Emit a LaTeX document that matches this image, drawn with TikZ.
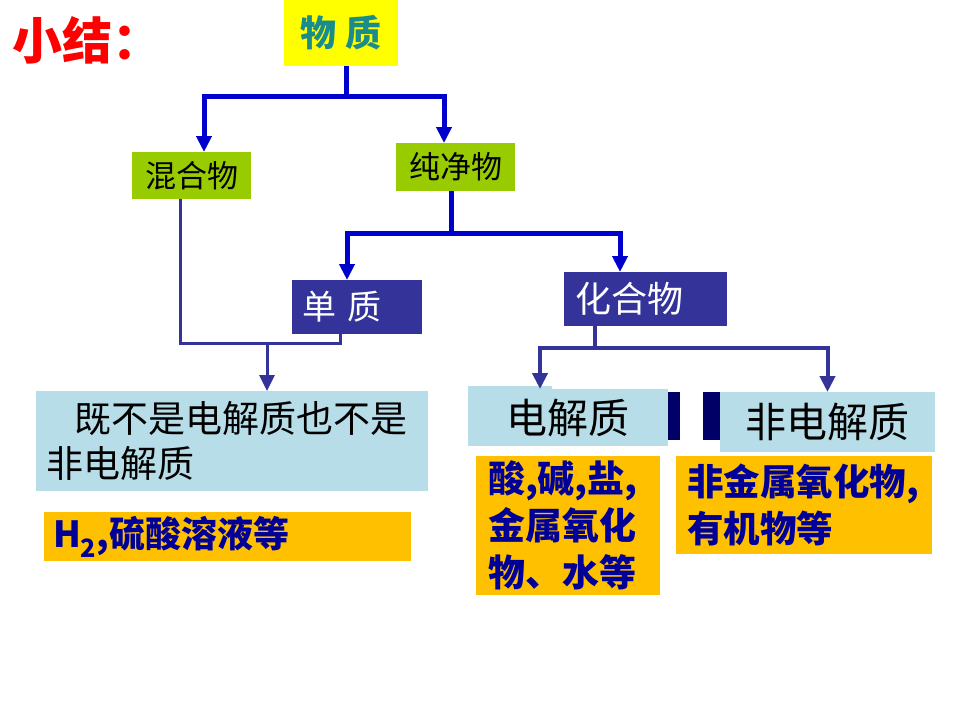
\documentclass[tikz,border=0pt]{standalone}
\usepackage{fontspec}
\newfontfamily\cjk{Noto Sans CJK SC}
\usetikzlibrary{arrows.meta,calc}
\definecolor{cblue}{HTML}{0000CC}
\definecolor{cnavy}{HTML}{333399}
\definecolor{cdark}{HTML}{000066}
\definecolor{cgreen}{HTML}{99CC00}
\definecolor{clight}{HTML}{B7DEE8}
\definecolor{corange}{HTML}{FFC000}
\definecolor{cyellow}{HTML}{FFFF00}
\definecolor{cteal}{HTML}{1A8C8C}
\definecolor{ctext}{HTML}{000099}
\tikzset{
  x=1pt, y=-1pt,
  box/.style={anchor=north west, inner ysep=0pt, outer sep=0pt, font=\cjk},
  greenbox/.style={box, fill=cgreen, text=black, align=center},
  navybox/.style={box, fill=cnavy, text=white, align=left},
  lightbox/.style={box, fill=clight, text=black},
  orangebox/.style={box, fill=corange, text=ctext, align=left},
  arr/.style={-{Triangle[length=16pt,width=15pt]}},
  bl/.style={draw=cblue, line width=5pt},
  nv/.style={draw=cnavy, line width=3pt},
  nvb/.style={draw=cnavy, line width=4pt},
}
\begin{document}
\begin{tikzpicture}
\useasboundingbox (0,0) rectangle (960,720);
\fill[white] (0,0) rectangle (960,720);
% title
\node[anchor=west, text=red, font=\cjk\bfseries\fontsize{50}{54}\selectfont, inner sep=0pt] (title) at (12,40) {小结：};
% top box
\node[box, fill=cyellow, text=cteal, minimum width=114pt, minimum height=66pt, font=\cjk\bfseries\fontsize{36}{40}\selectfont] (wz) at (284,0) {物 质};
% level 2
\node[greenbox, minimum width=119pt, minimum height=47pt, font=\cjk\fontsize{31}{34}\selectfont] (hh) at (132,152) {混合物};
\node[greenbox, minimum width=119pt, minimum height=48pt, font=\cjk\fontsize{31}{34}\selectfont] (cj) at (396,143) {纯净物};
% level 3
\node[navybox, text width=110pt, inner xsep=10pt, minimum height=54pt, font=\cjk\fontsize{34}{38}\selectfont] (dz) at (292,280) {单 质};
\node[navybox, text width=141pt, inner xsep=11pt, minimum height=54pt, font=\cjk\fontsize{36}{40}\selectfont] (hhw) at (564,272) {化合物};
% dark blocks behind
\fill[cdark] (668,392) rectangle (680,440);
\fill[cdark] (703,392) rectangle (722,440);
% level 4
\node[lightbox, align=left, text width=372pt, inner xsep=10pt, minimum height=100pt, font=\cjk\fontsize{37}{45}\selectfont] (jb) at (36,391) {\hspace*{28pt}既不是电解质也不是\\非电解质};
\fill[clight] (468,386) rectangle (552,392);
\node[lightbox, align=center, minimum width=200pt, minimum height=57pt, font=\cjk\fontsize{41}{44}\selectfont] (dj) at (468,389) {电解质};
\node[lightbox, align=center, minimum width=215pt, minimum height=60pt, font=\cjk\fontsize{41}{44}\selectfont] (fd) at (720,392) {非电解质};
% examples
\node[orangebox, text width=349pt, inner xsep=9pt, minimum height=49pt, font=\cjk\bfseries\fontsize{36}{38}\selectfont] (ex1) at (44,512) {H\textsubscript{2},硫酸溶液等};
\node[orangebox, text width=160pt, inner xsep=12pt, minimum height=139pt, font=\cjk\bfseries\fontsize{37}{47}\selectfont] (ex2) at (476,456) {酸,碱,盐,\\金属氧化\\物、水等};
\node[orangebox, text width=234pt, inner xsep=11pt, minimum height=98pt, font=\cjk\bfseries\fontsize{36.5}{47}\selectfont] (ex3) at (676,456) {非金属氧化物,\\有机物等};
% connectors from top
\draw[bl] ($(wz.south)+(5,0)$) -- ++(0,30) coordinate (j1);
\draw[bl,arr] (j1) -| ($(hh.north)+(12.5,0)$);
\draw[bl,arr] (j1) -| ($(cj.north)+(-11.5,0)$);
\draw[bl] ($(cj.south)+(-4.5,0)$) -- ++(0,42) coordinate (j2);
\draw[bl,arr] (j2) -| ($(dz.north)+(-10,0)$);
\draw[bl,arr] (j2) -| ($(hhw.north)+(-25.5,0)$);
% mixture + element join
\draw[nv] ($(hh.south)+(-11.5,0)$) |- ($(dz.south)+(-17,9)$) -- ($(dz.south)+(-17,0)$);
\draw[nv,arr] ($(jb.north)+(35,-48)$) -- ($(jb.north)+(35,0)$);
% compound split
\draw[nvb] ($(hhw.south)+(-50.5,0)$) -- ++(0,22) coordinate (j3);
\draw[nvb,arr] (j3) -| ($(dj.north)+(-28,0)$);
\draw[nvb,arr] (j3) -| (fd.north);
\end{tikzpicture}
\end{document}
